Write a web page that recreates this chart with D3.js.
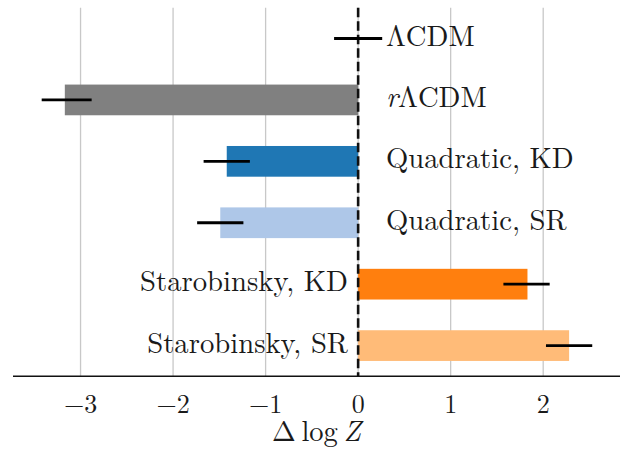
<!DOCTYPE html>
<html>
<head>
<meta charset="utf-8">
<script src="https://cdn.jsdelivr.net/npm/d3@7"></script>
<style>
html,body{margin:0;padding:0;background:#fff;}
svg{display:block;}
</style>
</head>
<body>
<script>
const categories = ["ΛCDM", "rΛCDM", "Quadratic, KD", "Quadratic, SR", "Starobinsky, KD", "Starobinsky, SR"];
const values = [0, -3.17, -1.42, -1.49, 1.83, 2.28];
const errCenters = [0, -3.15, -1.42, -1.49, 1.82, 2.28];
const errHalf = [0.26, 0.27, 0.25, 0.25, 0.25, 0.25];
const colors = ["#808080", "#808080", "#1f77b4", "#aec7e8", "#ff7f0e", "#ffbb78"];
const xTicks = [-3, -2, -1, 0, 1, 2];
const xDomain = [-3.73, 2.83];

const W = 620, H = 458;
const FONT = "'Latin Modern Roman', 'Liberation Serif', serif";
const svg = d3.select("body").append("svg").attr("width", W).attr("height", H)
  .attr("font-family", FONT);

const yTop = 7.8, yBottom = 376.3;
const x = d3.scaleLinear().domain(xDomain).range([13, 620]);
const y = d3.scaleBand().domain(categories).range([yTop, yBottom]).paddingInner(0.5).paddingOuter(0.25);

// grid
svg.append("g").selectAll("line").data(xTicks).join("line")
  .attr("x1", d => x(d)).attr("x2", d => x(d))
  .attr("y1", yTop).attr("y2", yBottom)
  .attr("stroke", "#c8c8c8").attr("stroke-width", 1.3);

// bars
svg.append("g").selectAll("rect").data(categories).join("rect")
  .attr("x", (d, i) => x(Math.min(0, values[i])))
  .attr("width", (d, i) => Math.abs(x(values[i]) - x(0)))
  .attr("y", d => y(d))
  .attr("height", y.bandwidth())
  .attr("fill", (d, i) => colors[i]);

// zero dashed line
svg.append("line")
  .attr("x1", x(0)).attr("x2", x(0)).attr("y1", yTop).attr("y2", yBottom)
  .attr("stroke", "#111").attr("stroke-width", 2.6).attr("stroke-dasharray", "9.5,4");

// error bars
svg.append("g").selectAll("line").data(categories).join("line")
  .attr("x1", (d, i) => x(errCenters[i] - errHalf[i]))
  .attr("x2", (d, i) => x(errCenters[i] + errHalf[i]))
  .attr("y1", d => y(d) + y.bandwidth() / 2)
  .attr("y2", d => y(d) + y.bandwidth() / 2)
  .attr("stroke", "#000").attr("stroke-width", 2.8);

// labels
svg.append("g").selectAll("text").data(categories).join("text")
  .attr("x", (d, i) => values[i] > 0 ? x(-0.11) : x(0.30))
  .attr("y", d => y(d) + y.bandwidth() / 2 + 7)
  .attr("font-size", 28.7)
  .attr("fill", "#1a1a1a")
  .attr("text-anchor", (d, i) => values[i] > 0 ? "end" : "start")
  .each(function(d) {
    const t = d3.select(this);
    if (d === "rΛCDM") {
      t.append("tspan").attr("font-style", "italic").text("r");
      t.append("tspan").text("ΛCDM");
    } else {
      t.text(d);
    }
  });

// x axis
svg.append("line").attr("x1", 13).attr("x2", 620).attr("y1", yBottom).attr("y2", yBottom)
  .attr("stroke", "#111").attr("stroke-width", 1.6);

svg.append("g").selectAll("text").data(xTicks).join("text")
  .attr("x", d => x(d)).attr("y", 412.5)
  .attr("font-size", 26)
  .attr("fill", "#1a1a1a")
  .attr("text-anchor", "middle")
  .text(d => d < 0 ? "\u2212" + Math.abs(d) : String(d));

const xl = svg.append("text").attr("x", (13 + 620) / 2).attr("y", 441)
  .attr("font-size", 28.5).attr("fill", "#1a1a1a").attr("text-anchor", "middle");
xl.append("tspan").text("Δ\u2009log\u2009");
xl.append("tspan").attr("font-style", "italic").text("Z");
</script>
</body>
</html>
